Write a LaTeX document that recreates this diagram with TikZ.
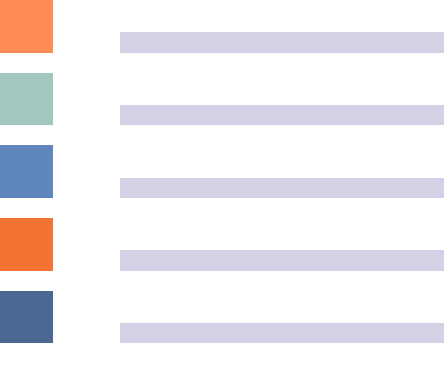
\documentclass[tikz,border=0pt]{standalone}
\begin{document}
\begin{tikzpicture}[x=1pt,y=-1pt,
  sq/.style={draw=none},
  bar/.style={fill=barc,draw=none}]
\definecolor{c1}{HTML}{FF8C55}
\definecolor{c2}{HTML}{A0C8BE}
\definecolor{c3}{HTML}{5F87BE}
\definecolor{c4}{HTML}{F47332}
\definecolor{c5}{HTML}{4A6891}
\definecolor{barc}{HTML}{D5D0E5}
\useasboundingbox (0,0) rectangle (444,382);
\foreach \c [count=\i from 0] in {c1,c2,c3,c4,c5} {
  \pgfmathsetmacro{\yy}{\i*72.7}
  \fill[\c] (0,\yy) rectangle (53,\yy+52.6);
  \fill[barc] (120,\yy+32.2) rectangle (444,\yy+52.6);
}
\end{tikzpicture}
\end{document}
